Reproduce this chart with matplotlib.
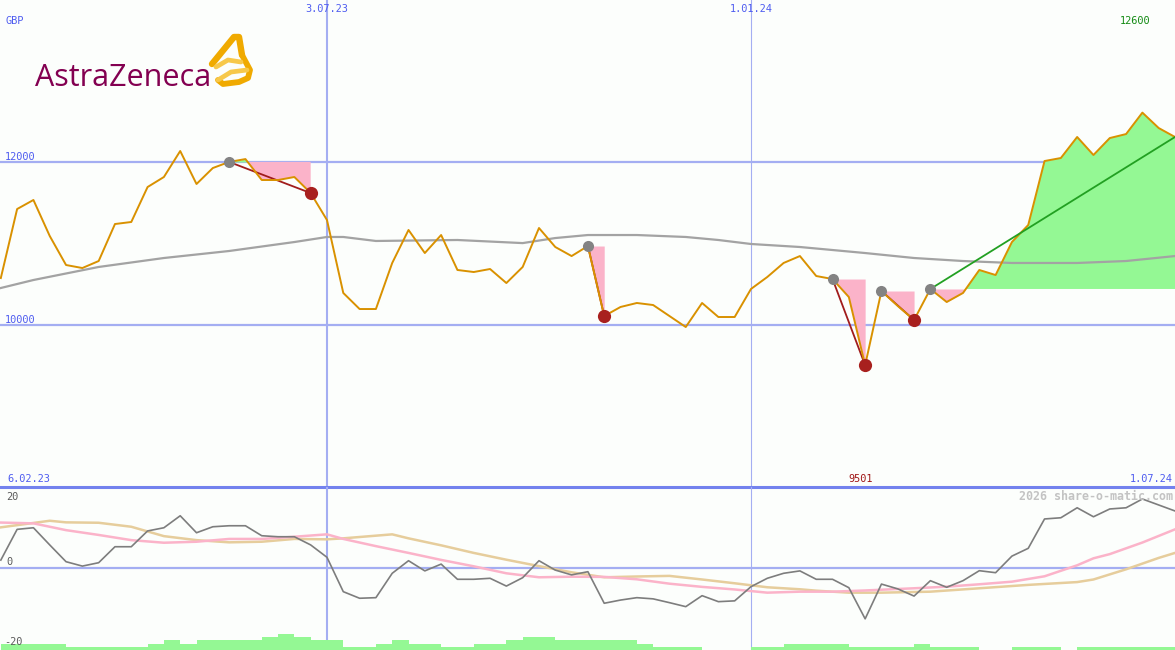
import numpy as np
import matplotlib
matplotlib.use("Agg")
import matplotlib.pyplot as plt
from matplotlib.lines import Line2D

# ---------------- data (week number counted from 6.02.23) ----------------
weeks = np.arange(1, 74)
price = [10570, 11417, 11528, 11086, 10730, 10693, 10779, 11233, 11258, 11687,
         11810, 12129, 11724, 11920, 11995, 12030, 11773, 11773, 11810, 11613,
         11282, 10387, 10190, 10190, 10755, 11160, 10877, 11098, 10669, 10644,
         10681, 10509, 10706, 11184, 10951, 10840, 10963, 10104, 10215, 10264,
         10239, 10104, 9969, 10264, 10092, 10092, 10436, 10583, 10755, 10840,
         10595, 10558, 10337, 9501, 10411, 10227, 10055, 10436, 10276, 10387,
         10669, 10607, 11012, 11221, 12006, 12043, 12301, 12080, 12288, 12337,
         12600, 12411, 12301]

ma_weeks = [1, 3, 7, 11, 15, 19, 21, 22, 24, 29, 33, 35, 37, 40, 43, 45, 47,
            50, 54, 57, 60, 63, 67, 70, 73]
ma_vals = [10448, 10546, 10706, 10816, 10902, 11012, 11074, 11074, 11025, 11037,
           10999, 11061, 11098, 11098, 11074, 11037, 10988, 10951, 10877, 10816,
           10779, 10755, 10755, 10779, 10840]

# signals: (start week, end week); last one still open
signals_closed = [(15, 20), (37, 38), (52, 54), (55, 57)]
signal_open = 58

osc = [1.9, 9.6, 10.0, 5.7, 1.5, 0.4, 1.25, 5.25, 5.25, 9.2,
       10.0, 13.0, 8.75, 10.25, 10.5, 10.5, 8.0, 7.75, 7.75, 5.7,
       2.6, -6.0, -7.65, -7.5, -1.4, 1.75, -0.8, 0.9, -2.9, -2.9,
       -2.65, -4.6, -2.5, 1.75, -0.6, -1.8, -1.0, -8.9, -8.1, -7.5,
       -7.8, -8.75, -9.75, -7.0, -8.5, -8.3, -4.75, -2.65, -1.4, -0.8,
       -2.9, -2.9, -5.0, -12.8, -4.1, -5.3, -7.1, -3.25, -4.9, -3.25,
       -0.75, -1.25, 2.9, 4.85, 12.2, 12.5, 15.0, 12.75, 14.7, 15.0,
       17.2, 15.7, 14.2]

pink_weeks = [1, 3, 5, 7, 9, 11, 13, 15, 17, 19, 21, 22, 24, 26, 28, 30, 32, 34,
              36, 38, 40, 42, 44, 46, 48, 50, 52, 54, 57, 59, 61, 63, 65, 67, 68,
              69, 71, 73]
pink_vals = [11.3, 11.1, 9.4, 8.2, 6.9, 6.25, 6.5, 7.2, 7.2, 7.75, 8.35, 7.2, 5.4,
             3.7, 1.95, 0.35, -1.4, -2.4, -2.25, -2.3, -2.9, -4.0, -4.8, -5.45,
             -6.25, -6.0, -6.0, -5.7, -5.15, -4.75, -4.15, -3.5, -2.15, 0.6, 2.35,
             3.4, 6.3, 9.6]

tan_weeks = [1, 4, 5, 7, 9, 11, 13, 15, 17, 19, 21, 22, 25, 26, 28, 30, 32, 34,
             36, 38, 40, 42, 44, 46, 48, 50, 51, 53, 55, 58, 61, 64, 67, 68, 70,
             72, 73]
tan_vals = [10.1, 11.75, 11.35, 11.25, 10.25, 7.9, 6.9, 6.35, 6.5, 7.2, 7.1, 7.35,
            8.35, 7.35, 5.6, 3.7, 2.0, 0.4, -1.15, -2.4, -2.2, -2.05, -2.95, -3.9,
            -4.9, -5.4, -5.75, -6.25, -6.25, -6.0, -5.15, -4.3, -3.6, -2.95, -0.4,
            2.45, 3.7]

volume = [2, 2, 2, 2, 1, 1, 1, 1, 1, 2, 3, 2, 3, 3, 3, 3, 4, 5, 4, 3,
          3, 1, 1, 2, 3, 2, 2, 1, 1, 2, 2, 3, 4, 4, 3, 3, 3, 3, 3, 2,
          1, 1, 1, 0, 0, 0, 1, 1, 2, 2, 2, 2, 1, 1, 1, 1, 2, 1, 1, 1,
          0, 0, 1, 1, 1, 0, 1, 1, 1, 1, 1, 1]

date_labels_top = {21: "3.07.23", 47: "1.01.24"}
start_label, end_label = "6.02.23", "1.07.24"
currency = "GBP"

# ---------------- style ----------------
W, H = 1175.0, 650.0
BG = "#fcfefc"
GRID = "#a4aef2"
SEP = "#7382ee"
BLUE_TXT = "#4e5cf0"
ORANGE = "#d99100"
MA_GRAY = "#a3a3a3"
PINK = "#fbb3c9"
LGREEN = "#94f894"
DKRED = "#a11c1c"
MONO = "DejaVu Sans Mono"
FS = 7.4

price = np.array(price, float)
x = weeks.astype(float)

fig = plt.figure(figsize=(W / 100, H / 100), dpi=100)
fig.patch.set_facecolor(BG)
ax = fig.add_axes([0, 163 / H, 1, 487 / H])
axb = fig.add_axes([0, 0, 1, 163 / H])
for a in (ax, axb):
    a.set_facecolor(BG)
    a.set_xlim(0.95, 73.0)
    a.set_axis_off()
ax.set_ylim(8006, 13982)
axb.set_ylim(-20.6, 20.2)


def fpx(xp, yp):
    return xp / W, 1 - yp / H


# grid lines
for v in (12000, 10000):
    ax.axhline(v, color=GRID, lw=1.6, zorder=0.5)
for a in (ax, axb):
    a.axvline(21, color=GRID, lw=1.5, zorder=0.5)
    a.axvline(47, color=GRID, lw=0.8, zorder=0.5)
axb.axhline(0, color=GRID, lw=1.6, zorder=0.5)
ax.axhline(ax.get_ylim()[0], color=SEP, lw=2.2, zorder=6, clip_on=False)

# signal fills
for s, e in signals_closed:
    seg = slice(s - 1, e)
    lvl = price[s - 1]
    ax.fill_between(x[seg], lvl, price[seg], where=price[seg] <= lvl,
                    interpolate=True, color=PINK, lw=0, zorder=1)
    ax.fill_between(x[seg], lvl, price[seg], where=price[seg] >= lvl,
                    interpolate=True, color=LGREEN, lw=0, zorder=1)
seg = slice(signal_open - 1, len(price))
lvl = price[signal_open - 1]
ax.fill_between(x[seg], lvl, price[seg], where=price[seg] <= lvl,
                interpolate=True, color=PINK, lw=0, zorder=1)
ax.fill_between(x[seg], lvl, price[seg], where=price[seg] >= lvl,
                interpolate=True, color=LGREEN, lw=0, zorder=1)

# moving average and price
ax.plot(ma_weeks, ma_vals, color=MA_GRAY, lw=1.6, zorder=2)
ax.plot(x, price, color=ORANGE, lw=1.4, zorder=3)

# signal lines and dots
for s, e in signals_closed:
    ax.plot([s, e], [price[s - 1], price[e - 1]], color=DKRED, lw=1.3, zorder=2.5)
    ax.plot(s, price[s - 1], "o", ms=8, color="#838383", zorder=5, mec="none")
    ax.plot(e, price[e - 1], "o", ms=9.5, color="#a8201e", zorder=5, mec="none")
ax.plot([signal_open, x[-1]], [price[signal_open - 1], price[-1]],
        color="#22a022", lw=1.3, zorder=4)
ax.plot(signal_open, price[signal_open - 1], "o", ms=8, color="#838383",
        zorder=5, mec="none")

# lower panel
axb.plot(tan_weeks, tan_vals, color="#e6cd9c", lw=1.8, zorder=2)
axb.plot(pink_weeks, pink_vals, color="#fbb3c9", lw=1.8, zorder=2)
axb.plot(x, osc, color="#7d7d7d", lw=1.2, zorder=3)
axv = axb.twinx()
axv.set_axis_off()
axv.set_ylim(0, 163 / 3.2)
axv.bar(x[:-1], volume, width=1.0, align="edge", color=LGREEN, lw=0, zorder=1)

# texts
tkw = dict(family=MONO, fontsize=FS)
fig.text(*fpx(5, 21), currency, color=BLUE_TXT, va="center", ha="left", **tkw)
for wk, lab in date_labels_top.items():
    ax.text(wk, 1 - 9 / 487, lab, transform=ax.get_xaxis_transform(),
            color=BLUE_TXT, va="center", ha="center", **tkw)
ax.text(0.0045, 12000, "12000", transform=ax.get_yaxis_transform(),
        color=BLUE_TXT, va="bottom", ha="left", **tkw)
ax.text(0.0045, 10000, "10000", transform=ax.get_yaxis_transform(),
        color=BLUE_TXT, va="bottom", ha="left", **tkw)
imax = int(np.argmax(price))
imin = int(np.argmin(price))
ax.text(x[imax] - 0.45, 1 - 21 / 487, f"{price.max():.0f}",
        transform=ax.get_xaxis_transform(), color="#138a13", va="center",
        ha="center", **tkw)
ax.text(x[imin] - 0.3, 8006 + 8 / 487 * (13982 - 8006), f"{price.min():.0f}",
        color="#a01515", va="center", ha="center", **tkw)
fig.text(*fpx(7, 479), start_label, color=BLUE_TXT, va="center", ha="left", **tkw)
fig.text(*fpx(1173, 479), end_label, color=BLUE_TXT, va="center", ha="right", **tkw)
fig.text(*fpx(6, 496.5), "20", color="#5a5a5a", va="center", ha="left", **tkw)
fig.text(*fpx(6, 561.7), "0", color="#5a5a5a", va="center", ha="left", **tkw)
fig.text(*fpx(4, 642), "-20", color="#5a5a5a", va="center", ha="left", **tkw)
fig.text(*fpx(1173, 496), "2026 share-o-matic.com", color="#c3c3c3",
         va="center", ha="right", family=MONO, fontsize=8.4, fontweight="bold")

# logo
fig.text(*fpx(35, 86), "AstraZeneca", color="#830051", family="Open Sans",
         fontsize=22, va="baseline", ha="left")
GOLD = "#f0aa00"
LGOLD = "#f7c84a"
shapes = [
    ([(212, 64), (234, 37), (239, 37), (242, 55)], GOLD, 4.6),
    ([(242, 55), (250, 70), (248, 78), (239, 82), (223, 84), (218, 80)], GOLD, 4.2),
    ([(216, 67), (228, 60), (241, 62)], LGOLD, 3.4),
    ([(218, 80), (231, 72), (247, 70)], LGOLD, 3.4),
]
for pts, col, lw in shapes:
    xs = [p[0] / W for p in pts]
    ys = [1 - p[1] / H for p in pts]
    fig.add_artist(Line2D(xs, ys, color=col, lw=lw, solid_joinstyle="round",
                          solid_capstyle="round", transform=fig.transFigure))

fig.savefig("out.png", dpi=100, facecolor=BG)
